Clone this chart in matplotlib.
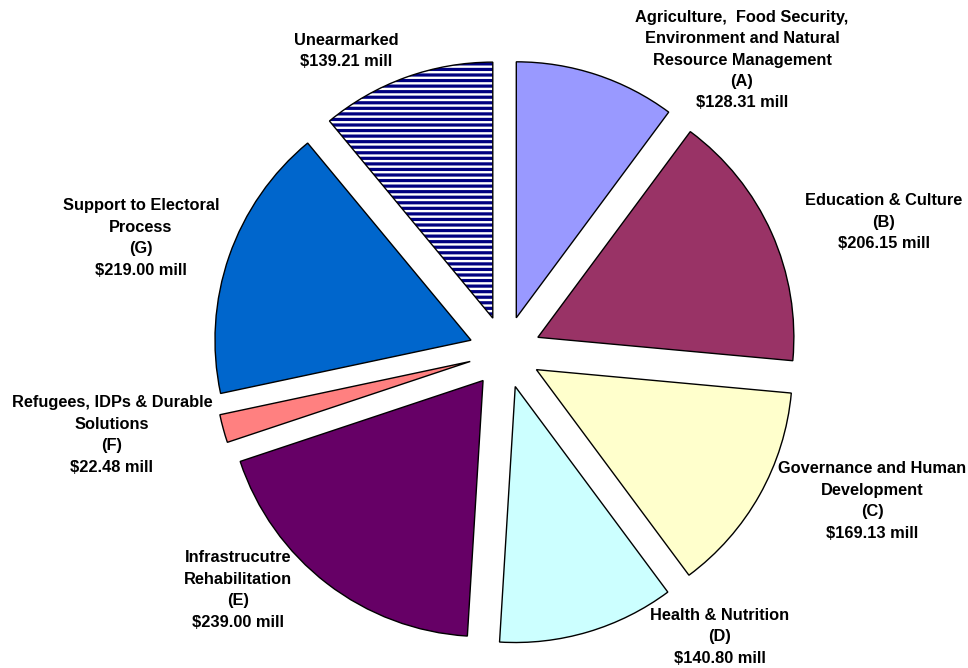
import matplotlib
matplotlib.use("Agg")
import matplotlib.pyplot as plt
from matplotlib.patches import Wedge

# funding by sector (US$ millions), clockwise from 12 o'clock
names = ["Agriculture,  Food Security,\nEnvironment and Natural\nResource Management\n(A)",
         "Education & Culture\n(B)",
         "Governance and Human\nDevelopment\n(C)",
         "Health & Nutrition\n(D)",
         "Infrastrucutre\nRehabilitation\n(E)",
         "Refugees, IDPs & Durable\nSolutions\n(F)",
         "Support to Electoral\nProcess\n(G)",
         "Unearmarked"]
values = [128.31, 206.15, 169.13, 140.80, 239.00, 22.48, 219.00, 139.21]
colors = ["#9999FF", "#993366", "#FFFFCC", "#CCFFFF", "#660066", "#FF8080", "#0066CC", "white"]

# label block centres in pixels from top-left
label_pos = [(742, 60), (884, 222), (872, 501), (720, 637),
             (238, 590), (112, 435), (141, 238), (346, 51)]

plt.rcParams['font.family'] = ['Liberation Sans', 'DejaVu Sans']
plt.rcParams['hatch.linewidth'] = 2.3

W, H = 968, 668
fig = plt.figure(figsize=(W / 100, H / 100), dpi=100)
ax = fig.add_axes([0, 0, 1, 1])

cx, cy = 505, H - 352
R = 256
wedges, _ = ax.pie(values, colors=colors, startangle=90, counterclock=False,
                   radius=R, center=(cx, cy), explode=[36] * len(values),
                   wedgeprops=dict(edgecolor="black", linewidth=1.0), frame=True)
ax.set_xlim(0, W)
ax.set_ylim(0, H)
ax.set_aspect('equal')
ax.axis('off')

# striped slice: navy hatch, then a black outline on top
w = wedges[-1]
w.set_hatch('---')
w.set_edgecolor('#000080')
w.set_linewidth(0)
ax.add_patch(Wedge(w.center, w.r, w.theta1, w.theta2, fill=False,
                   edgecolor="black", linewidth=1.0))

for name, v, (x, y) in zip(names, values, label_pos):
    ax.text(x, H - y, name + "\n$%.2f mill" % v, ha="center", va="center",
            multialignment="center", fontsize=11.8, fontweight="bold",
            linespacing=1.53)

fig.savefig("out.png", dpi=100)
